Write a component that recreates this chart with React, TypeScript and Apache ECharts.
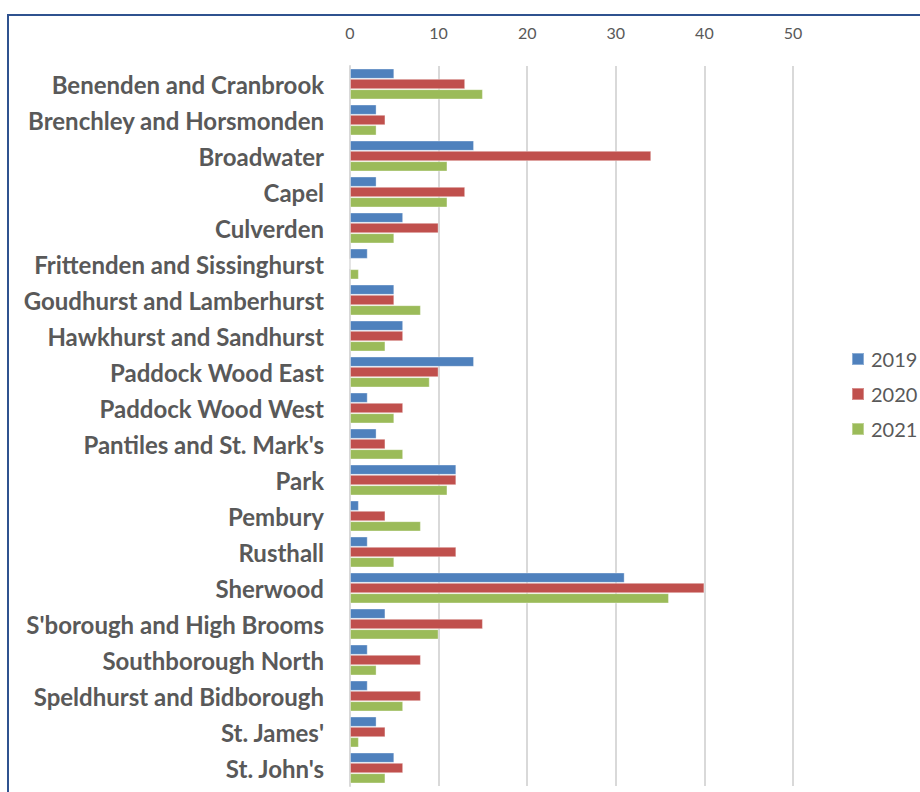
import React, { useEffect, useRef } from "react";
import * as echarts from "echarts";

const categories = [
  "Benenden and Cranbrook",
  "Brenchley and Horsmonden",
  "Broadwater",
  "Capel",
  "Culverden",
  "Frittenden and Sissinghurst",
  "Goudhurst and Lamberhurst",
  "Hawkhurst and Sandhurst",
  "Paddock Wood East",
  "Paddock Wood West",
  "Pantiles and St. Mark's",
  "Park",
  "Pembury",
  "Rusthall",
  "Sherwood",
  "S'borough and High Brooms",
  "Southborough North",
  "Speldhurst and Bidborough",
  "St. James'",
  "St. John's",
];

const values2019 = [5, 3, 14, 3, 6, 2, 5, 6, 14, 2, 3, 12, 1, 2, 31, 4, 2, 2, 3, 5];
const values2020 = [13, 4, 34, 13, 10, 0, 5, 6, 10, 6, 4, 12, 4, 12, 40, 15, 8, 8, 4, 6];
const values2021 = [15, 3, 11, 11, 5, 1, 8, 4, 9, 5, 6, 11, 8, 5, 36, 10, 3, 6, 1, 4];

const xTicks = [0, 10, 20, 30, 40, 50];

const seriesNames = ["2019", "2020", "2021"];
const seriesColors = ["#4f81bd", "#c0504d", "#9bbb59"];

export default function App() {
  const ref = useRef<HTMLDivElement>(null);

  useEffect(() => {
    if (!ref.current) return;
    const chart = echarts.init(ref.current, null, { renderer: "svg" });
    const data = [values2019, values2020, values2021];
    chart.setOption({
      animation: false,
      backgroundColor: "#ffffff",
      grid: { left: 350, right: 127, top: 66, bottom: 6, containLabel: false },
      legend: {
        orient: "vertical",
        left: 846,
        top: 344,
        itemWidth: 12,
        itemHeight: 12,
        itemGap: 15,
        icon: "rect",
        textStyle: { color: "#595959", fontSize: 20, fontFamily: "Lato", padding: [0, 0, 0, 2] },
        data: seriesNames,
      },
      xAxis: {
        type: "value",
        position: "top",
        min: xTicks[0],
        max: xTicks[xTicks.length - 1],
        interval: 10,
        axisLine: { show: false },
        axisTick: { show: false },
        axisLabel: { color: "#595959", fontSize: 16, fontFamily: "Lato", margin: 26 },
        splitLine: { show: true, lineStyle: { color: "#d9d9d9", width: 2 } },
      },
      yAxis: {
        type: "category",
        data: categories,
        inverse: true,
        axisLine: { show: true, lineStyle: { color: "#d9d9d9", width: 2 } },
        axisTick: { show: false },
        axisLabel: {
          color: "#595959",
          fontSize: 24,
          fontWeight: "bold",
          fontFamily: "Lato",
          margin: 26,
          padding: [0, 0, 5, 0],
        },
      },
      series: seriesNames.map((name, i) => ({
        name,
        type: "bar",
        data: data[i],
        barGap: "0%",
        barCategoryGap: "14%",
        itemStyle: { color: seriesColors[i], borderColor: "rgba(255,255,255,0.35)", borderWidth: 1 },
      })),
      graphic: [
        {
          type: "rect",
          shape: { x: 8, y: 15, width: 1000, height: 1000 },
          style: { fill: "none", stroke: "#2f528f", lineWidth: 2 },
          silent: true,
        },
      ],
    });
    return () => chart.dispose();
  }, []);

  return (
    <div
      ref={ref}
      style={{ position: "fixed", left: 0, top: 0, width: 920, height: 792 }}
    />
  );
}
